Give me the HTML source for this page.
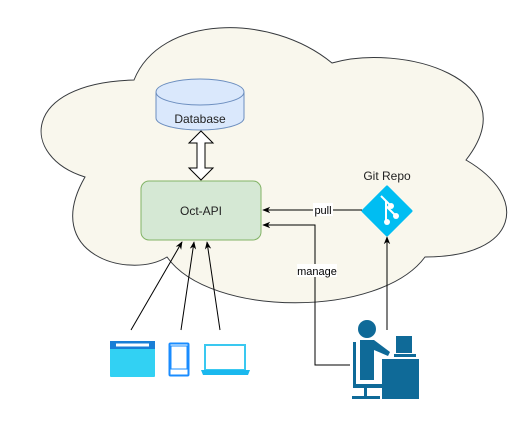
<!DOCTYPE html>
<html><head><meta charset="utf-8"><style>body{margin:0;background:#fff}svg{display:block;font-family:"Liberation Sans",sans-serif}</style></head><body>
<svg width="531" height="422" viewBox="0 0 531 422" xmlns="http://www.w3.org/2000/svg">
<defs><marker id="a" viewBox="0 0 10 10" refX="9" refY="5" markerWidth="8" markerHeight="8" orient="auto"><path d="M0,1 L10,5 L0,9 L3,5z" fill="#000"/></marker></defs>
<path d="M134,80 C160,15 270,12 332,63 C400,43 530,78 466,160 C530,197 520,257 425,257 C380,318 210,318 167,257 C130,280 40,255 85,177 C20,157 20,83 134,80 Z" fill="#f9f7ed" stroke="#36393d" stroke-width="1"/>
<!-- database -->
<path d="M156,92 L156,118 A44,12 0 0 0 244,118 L244,92" fill="#dae8fc" stroke="#6c8ebf"/>
<ellipse cx="200" cy="92" rx="44" ry="13" fill="#dae8fc" stroke="#6c8ebf"/>
<text x="200" y="123" font-size="12" text-anchor="middle" fill="#222">Database</text>
<!-- double arrow -->
<path d="M201,131 L213,143 L205,143 L205,168 L213,168 L201,180 L189,168 L197,168 L197,143 L189,143 Z" fill="#fff" stroke="#000"/>
<rect x="141" y="181" width="120" height="59" rx="8" fill="#d5e8d4" stroke="#82b366"/>
<text x="201" y="215" font-size="12" text-anchor="middle" fill="#222">Oct-API</text>
<!-- git -->
<text x="387" y="180" font-size="12" text-anchor="middle" fill="#222">Git Repo</text>
<path d="M387,187 L411,211 L387,235 L363,211 Z" fill="#00bdf2" stroke="#00bdf2" stroke-linejoin="round" stroke-width="3"/>
<path d="M381,196 L391,206 M386,201 L386,224 M386,206 L396,216" stroke="#fff" stroke-width="2"/>
<circle cx="391" cy="206" r="3" fill="#fff"/><circle cx="396" cy="216" r="3" fill="#fff"/><circle cx="387" cy="222" r="3" fill="#fff"/>
<!-- edges -->
<line x1="362" y1="210" x2="263" y2="210" stroke="#000" marker-end="url(#a)"/>
<rect x="313" y="203" width="20" height="13" fill="#fff"/><text x="323" y="214" font-size="11" text-anchor="middle">pull</text>
<path d="M350,365 L315,365 L315,225 L263,225" fill="none" stroke="#000" marker-end="url(#a)"/>
<rect x="297" y="264" width="40" height="13" fill="#fff"/><text x="317" y="275" font-size="11" text-anchor="middle">manage</text>
<line x1="387" y1="330" x2="387" y2="237" stroke="#000" marker-end="url(#a)"/>
<line x1="131" y1="330" x2="182" y2="242" stroke="#000" marker-end="url(#a)"/>
<line x1="181" y1="330" x2="194" y2="242" stroke="#000" marker-end="url(#a)"/>
<line x1="220" y1="330" x2="207" y2="242" stroke="#000" marker-end="url(#a)"/>
<!-- devices -->
<rect x="110" y="341" width="45" height="36" rx="1" fill="#32d1f3"/><rect x="110" y="341" width="45" height="8" fill="#1a7fd6"/><rect x="116" y="343.5" width="33" height="3" fill="#fff"/>
<rect x="169.5" y="343.5" width="19" height="32" rx="1" fill="#fff" stroke="#1a8cff" stroke-width="2"/><rect x="171" y="346" width="16" height="23" fill="#fff" stroke="#1a8cff"/>
<rect x="205" y="345" width="40" height="25" fill="#fff" stroke="#3ac8f0" stroke-width="2"/><path d="M201,370 L250,370 L248,375 L203,375 Z" fill="#1ab8ee"/>
<!-- person -->
<circle cx="367" cy="329" r="9" fill="#0f6a98"/>
<path d="M360,340 L374,340 L390,352 L388,356 L374,350 L374,380 L360,380 Z" fill="#0f6a98"/>
<path d="M353,342 L356,342 L356,384 L382,384 L382,388 L353,388 Z" fill="#0f6a98"/>
<rect x="364" y="388" width="3" height="8" fill="#0f6a98"/><rect x="352" y="396" width="28" height="3" fill="#0f6a98"/>
<rect x="396" y="336" width="16" height="17" fill="#0f6a98"/><rect x="394" y="354" width="22" height="3" fill="#0f6a98"/>
<rect x="382" y="359" width="37" height="40" fill="#0f6a98"/>
</svg>
</body></html>
